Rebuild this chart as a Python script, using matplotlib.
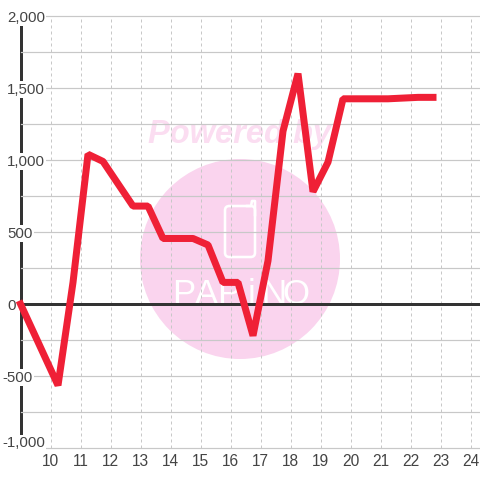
import matplotlib
matplotlib.use("Agg")
import matplotlib.pyplot as plt
from matplotlib.patches import Circle, FancyBboxPatch
from matplotlib.lines import Line2D
from matplotlib.transforms import ScaledTranslation

hours = [9.0, 10.25, 10.75, 11.25, 11.75, 12.75, 13.25, 13.75, 14.75, 15.25, 15.75, 16.25,
         16.75, 17.25, 17.75, 18.25, 18.75, 19.25, 19.75, 20.75, 21.25, 22.25, 22.75]
values = [0, -565, 150, 1040, 990, 680, 680, 455, 455, 410, 150, 150,
          -220, 300, 1200, 1600, 780, 985, 1425, 1425, 1425, 1435, 1435]
x_ticks = list(range(10, 25))
y_ticks = list(range(-1000, 2001, 250))
y_labels = {-1000: "-1,000", -500: "-500", 0: "0", 500: "500", 1000: "1,000", 1500: "1,500", 2000: "2,000"}
wm_letters = ["P", "A", "P", "i", "N", "O"]

PX = 72 / 100
W = 480.0
plt.rcParams["font.family"] = ["Liberation Sans", "DejaVu Sans"]

fig = plt.figure(figsize=(4.8, 4.8), dpi=100, facecolor="white")
ax = fig.add_axes([20.5 / W, 32 / W, 459.5 / W, 432 / W])
ax.set_xlim(9, 9 + 459.5 / 30)
ax.set_ylim(-1000, 2000)
ax.set_facecolor("white")


def fx(p):
    return p / W


def fy(p):
    return 1 - p / W


# Watermark, behind the grid
wm_pink = "#FAD4EE"
tf = fig.transFigure
ax.add_patch(Circle((fx(240), fy(259)), 100 / W, transform=tf, fc=wm_pink, ec="none", zorder=0.2, clip_on=False))
ax.add_patch(FancyBboxPatch((fx(225), fy(257)), 30 / W, 51 / W, boxstyle="round,pad=0,rounding_size=0.009",
                            transform=tf, fc="none", ec="white", lw=2.6 * PX, zorder=0.3, clip_on=False))
ax.add_line(Line2D([fx(247), fx(251), fx(252), fx(255), fx(255)], [fy(206), fy(206), fy(201), fy(201), fy(215)],
                   transform=tf, color="white", lw=2.6 * PX, zorder=0.3, clip_on=False))
ax.text(fx(240), fy(135), "Powered by", transform=tf, ha="center", va="center", color="#FBDDF1",
        fontsize=23.5, fontweight="bold", fontstyle="italic", zorder=0.3, clip_on=False)
for i, ch in enumerate(wm_letters):
    ax.text(fx(184 + i * 22.4), fy(304), ch, transform=tf, ha="center", va="baseline", color="white",
            fontsize=25, family=["Liberation Sans Narrow", "Liberation Sans"], zorder=0.3, clip_on=False)

# Grid
ax.set_axisbelow("line")
ax.set_xticks(x_ticks)
ax.set_yticks(y_ticks)
ax.set_yticklabels([y_labels.get(v, "") for v in y_ticks])
ax.grid(axis="y", color="#C8C8C8", lw=1.2 * PX, clip_on=False)
ax.grid(axis="x", color="#C8C8C8", lw=1 * PX, linestyle=(0, (3, 3)))
ax.tick_params(axis="both", length=0)
ax.tick_params(axis="y", pad=13.5 * PX, labelsize=10.8, labelcolor="#444444")
ax.tick_params(axis="x", pad=6 * PX, labelsize=11.2, labelcolor="#444444")

for t, v in zip(ax.yaxis.get_major_ticks(), y_ticks):
    lab = t.label1
    lab.set_ha("left")
    dx = -5 / 100 if v < 0 else 0
    dy = 6.5 / 100 if v == -1000 else 0
    lab.set_transform(lab.get_transform() + ScaledTranslation(dx, dy, fig.dpi_scale_trans))
    if lab.get_text():
        lab.set_bbox(dict(facecolor="white", edgecolor="none", pad=1.0))

for s in ["top", "right", "bottom"]:
    ax.spines[s].set_visible(False)
ax.spines["left"].set_color("#333333")
ax.spines["left"].set_linewidth(3 * PX)
ax.spines["left"].set_zorder(1)

ax.axhline(0, color="#333333", lw=3 * PX, zorder=2)
ax.plot(hours, values, color="#EF2036", lw=7 * PX, solid_joinstyle="bevel",
        solid_capstyle="projecting", zorder=3, clip_on=False)

fig.savefig("out.png", dpi=100, facecolor="white")
